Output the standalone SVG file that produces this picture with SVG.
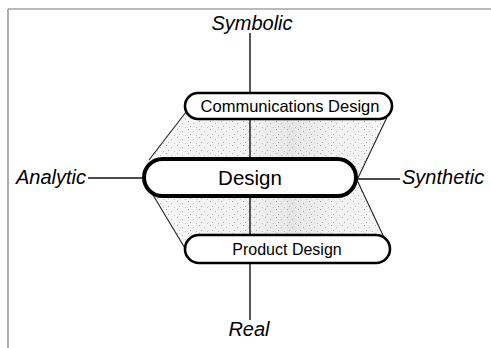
<svg xmlns="http://www.w3.org/2000/svg" width="491" height="348" viewBox="0 0 491 348">
<style>
  .frame{stroke:#777;stroke-width:1.2;fill:none}
  .conn{stroke:#111;stroke-width:1.4;fill:none}
  .diag{stroke:#222;stroke-width:1.1;fill:none}
  .box{fill:#fff;stroke:#000}
  .lbl{font-family:"Liberation Sans",Arial,sans-serif;fill:#000;text-anchor:middle}
  .axis{font-family:"Liberation Sans",Arial,sans-serif;font-style:italic;font-size:20px;fill:#000}
  .shade{fill:url(#stipple)}
</style>
<defs>
  <pattern id="stipple" patternUnits="userSpaceOnUse" width="11" height="8">
    <rect width="11" height="8" fill="#f7f7f7"/>
    <rect x="1" y="1" width="1" height="1" fill="#a8a8a8"/>
    <rect x="6" y="3" width="1" height="1" fill="#bcbcbc"/>
    <rect x="3" y="6" width="1" height="1" fill="#b4b4b4"/>
    <rect x="9" y="7" width="1" height="1" fill="#c8c8c8"/>
  </pattern>
  <linearGradient id="dark" x1="0" y1="0" x2="1" y2="0">
    <stop offset="0" stop-color="#000" stop-opacity="0"/>
    <stop offset="0.45" stop-color="#000" stop-opacity="0.03"/>
    <stop offset="0.6" stop-color="#000" stop-opacity="0.07"/>
    <stop offset="0.8" stop-color="#000" stop-opacity="0.02"/>
    <stop offset="1" stop-color="#000" stop-opacity="0"/>
  </linearGradient>
</defs>
<rect width="491" height="348" fill="#fff"/>
<g id="frame">
  <line class="frame" x1="8" y1="9" x2="491" y2="9"/>
  <line class="frame" x1="8" y1="9" x2="8" y2="348"/>
</g>
<g id="shading">
  <polygon class="shade" points="186,112 389,113 357,180 145,180 149,160"/>
  <polygon class="shade" points="145,180 357,180 389,248 186,250 153,195"/>
  <polygon fill="url(#dark)" points="186,112 389,113 357,180 145,180 149,160"/>
  <polygon fill="url(#dark)" points="145,180 357,180 389,248 186,250 153,195"/>
</g>
<g id="connectors">
  <line class="conn" x1="250" y1="33" x2="250" y2="93"/>
  <line class="conn" x1="250" y1="119" x2="250" y2="158"/>
  <line class="conn" x1="250" y1="197" x2="250" y2="235"/>
  <line class="conn" x1="250" y1="263" x2="250" y2="320"/>
  <line class="conn" x1="88" y1="178" x2="143" y2="178"/>
  <line class="conn" x1="357" y1="179" x2="400" y2="179"/>
  <line class="diag" x1="186" y1="112" x2="149" y2="160"/>
  <line class="diag" x1="389" y1="113" x2="357" y2="180"/>
  <line class="diag" x1="153" y1="195" x2="186" y2="250"/>
  <line class="diag" x1="357" y1="180" x2="389" y2="248"/>
</g>
<g id="comm">
  <rect class="box" x="185" y="93" width="207" height="26" rx="13" stroke-width="2.6"/>
  <text class="lbl" x="290" y="112" font-size="16.5">Communications Design</text>
</g>
<g id="design">
  <rect class="box" x="144" y="159" width="212" height="37" rx="18.5" stroke-width="4"/>
  <text class="lbl" x="250" y="185" font-size="20.5">Design</text>
</g>
<g id="product">
  <rect class="box" x="185" y="235" width="205" height="28" rx="14" stroke-width="2.6"/>
  <text class="lbl" x="287" y="255" font-size="16">Product Design</text>
</g>
<g id="symbolic"><text class="axis" x="252" y="30" text-anchor="middle">Symbolic</text></g>
<g id="real"><text class="axis" x="249" y="336" text-anchor="middle">Real</text></g>
<g id="analytic"><text class="axis" x="16" y="184">Analytic</text></g>
<g id="synthetic"><text class="axis" x="402" y="184">Synthetic</text></g>
</svg>
